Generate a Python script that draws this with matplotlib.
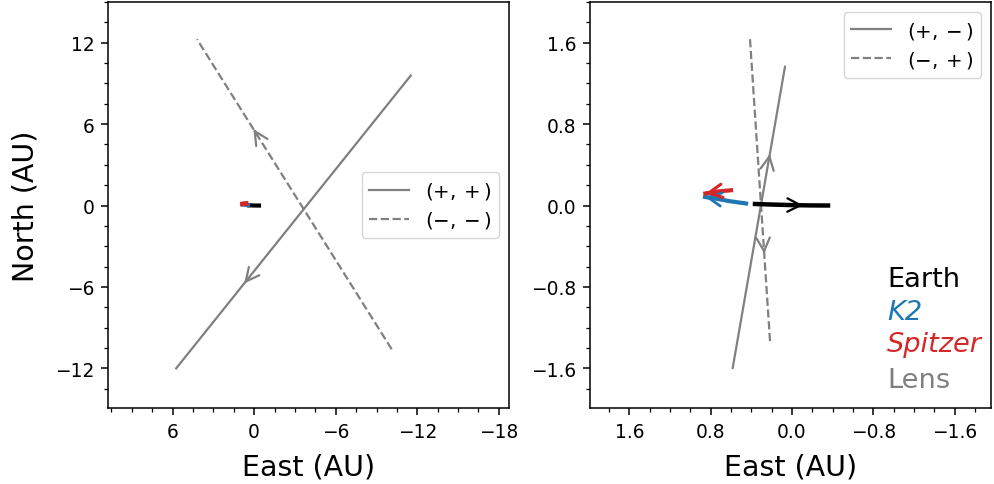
import numpy as np
import matplotlib
matplotlib.use("Agg")
import matplotlib.pyplot as plt
from matplotlib.ticker import MultipleLocator

# ── data: projected positions (East, North) in AU ─────────────
earth_e = [0.364, 0.18, 0.0, -0.18, -0.354]
earth_n = [0.015, 0.009, 0.004, 0.001, 0.0]

k2_e = [0.452, 0.61, 0.757, 0.855]
k2_n = [0.020, 0.042, 0.069, 0.084]

spitzer_e = [0.60, 0.728, 0.852]
spitzer_n = [0.150, 0.138, 0.118]

# lens trajectories, left panel: (+,+) and (-,-) solutions
lens_pp_e = [-11.52, 5.74]
lens_pp_n = [9.58, -12.0]
lens_mm_e = [-10.12, 4.21]
lens_mm_n = [-10.59, 12.26]

# lens trajectories, right panel: (+,-) and (-,+) solutions
lens_pm_e = [0.583, 0.069]
lens_pm_n = [-1.596, 1.364]
lens_mp_e = [0.413, 0.216]
lens_mp_n = [1.635, -1.334]

GRAY = "#808080"
BLUE = "#1f77b4"
RED = "#d62728"

TICK_FS = 13.4
LEG_FS = 14.2
LABEL_FS = 20.5


def arrow_on(ax, e, n, frac, color, lw, ms=24):
    """Draw an open arrowhead at a fraction of the way along a track."""
    e = np.asarray(e, float)
    n = np.asarray(n, float)
    seg = np.hypot(np.diff(e), np.diff(n))
    cum = np.concatenate([[0], np.cumsum(seg)])
    s = frac * cum[-1]
    i = int(np.clip(np.searchsorted(cum, s, side="right") - 1, 0, len(seg) - 1))
    w = (s - cum[i]) / seg[i]
    tip = (e[i] + w * (e[i + 1] - e[i]), n[i] + w * (n[i + 1] - n[i]))
    d = ((e[i + 1] - e[i]) / seg[i], (n[i + 1] - n[i]) / seg[i])
    back = 0.01 * cum[-1]
    ax.annotate("", xy=tip, xytext=(tip[0] - d[0] * back, tip[1] - d[1] * back),
                arrowprops=dict(arrowstyle="->", color=color, lw=lw,
                                mutation_scale=ms, shrinkA=0, shrinkB=0))


def style_axes(ax, major, minor):
    ax.xaxis.set_major_locator(MultipleLocator(major))
    ax.yaxis.set_major_locator(MultipleLocator(major))
    ax.xaxis.set_minor_locator(MultipleLocator(minor))
    ax.yaxis.set_minor_locator(MultipleLocator(minor))
    ax.tick_params(which="major", length=5, width=1.1, pad=4.9, labelsize=TICK_FS)
    ax.tick_params(which="minor", length=2.8, width=0.9)
    for sp in ax.spines.values():
        sp.set_linewidth(1.1)
    ax.set_xlabel("East (AU)", fontsize=LABEL_FS, labelpad=8.5)


fig = plt.figure(figsize=(9.94, 4.85), dpi=100)
ax1 = fig.add_axes([0.1087, 0.1567, 0.4034, 0.8371])
ax2 = fig.add_axes([0.5936, 0.1567, 0.4034, 0.8371])

# ── left panel ────────────────────────────────────────────
ax1.plot(lens_pp_e, lens_pp_n, color=GRAY, lw=1.6, label=r"$(+, +)$")
ax1.plot(lens_mm_e, lens_mm_n, color=GRAY, lw=1.6, ls="--", label=r"$(-, -)$")
arrow_on(ax1, lens_pp_e, lens_pp_n, 0.71, GRAY, 1.6)
arrow_on(ax1, lens_mm_e, lens_mm_n, 0.71, GRAY, 1.6)
ax1.plot(earth_e, earth_n, color="black", lw=3)
ax1.plot(k2_e, k2_n, color=BLUE, lw=3)
ax1.plot(spitzer_e, spitzer_n, color=RED, lw=3.5)

ax1.set_xlim(10.75, -18.75)
ax1.set_ylim(-14.92, 15.0)
style_axes(ax1, 6, 1.5)
ax1.set_ylabel("North (AU)", fontsize=LABEL_FS, labelpad=11)
ax1.legend(loc="center right", fontsize=LEG_FS, labelspacing=0.4)

# ── right panel ───────────────────────────────────────────
ax2.plot(lens_pm_e, lens_pm_n, color=GRAY, lw=1.6, label=r"$(+, -)$")
ax2.plot(lens_mp_e, lens_mp_n, color=GRAY, lw=1.6, ls="--", label=r"$(-, +)$")
arrow_on(ax2, lens_pm_e, lens_pm_n, 0.71, GRAY, 1.6)
arrow_on(ax2, lens_mp_e, lens_mp_n, 0.71, GRAY, 1.6)

ax2.plot(earth_e, earth_n, color="black", lw=3.2)
arrow_on(ax2, earth_e, earth_n, 0.66, "black", 1.6)
ax2.plot(k2_e, k2_n, color=BLUE, lw=3)
arrow_on(ax2, k2_e, k2_n, 1.0, BLUE, 2)
ax2.plot(spitzer_e, spitzer_n, color=RED, lw=3)
arrow_on(ax2, spitzer_e, spitzer_n, 1.0, RED, 2.2)

ax2.set_xlim(1.986, -1.957)
ax2.set_ylim(-1.99, 2.0)
style_axes(ax2, 0.8, 0.2)
ax2.legend(loc="upper right", fontsize=LEG_FS, labelspacing=0.4)

names = ["Earth", "K2", "Spitzer", "Lens"]
colors = ["black", BLUE, RED, GRAY]
styles = ["normal", "italic", "italic", "normal"]
ypos = [0.301, 0.219, 0.141, 0.052]
for name, c, st, y in zip(names, colors, styles, ypos):
    ax2.text(0.741, y, name, color=c, fontstyle=st, fontsize=19.6,
             transform=ax2.transAxes, va="baseline", ha="left")

fig.savefig("out.png", dpi=100)
